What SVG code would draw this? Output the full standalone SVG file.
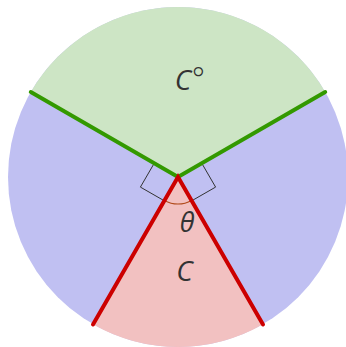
<svg xmlns="http://www.w3.org/2000/svg" width="346" height="347" viewBox="0 0 346 347">
<style>
.lbl{font-family:"Open Sans","Noto Sans","DejaVu Sans",sans-serif;font-style:italic;fill:#333;font-size:28px;text-anchor:middle}
.ra{fill:none;stroke:#333;stroke-width:1}
.gl{stroke:#339900;stroke-width:4;stroke-linecap:round;fill:none}
.rl{stroke:#cc0000;stroke-width:4;stroke-linecap:round;fill:none}
</style>
<g id="disk">
<circle cx="178" cy="177" r="170" fill="#c0c0f2"/>
</g>
<g id="polar-cone">
<path d="M178,177 L30.8,92 A170,170 0 0 1 325.2,92 Z" fill="#cde5c5"/>
<text class="lbl" x="183" y="90">C</text>
<text x="198.5" y="90" style="font-family:'Open Sans','DejaVu Sans',sans-serif;font-size:31px;font-weight:300;fill:#333;text-anchor:middle">°</text>
</g>
<g id="cone">
<path d="M178,177 L263,324.2 A170,170 0 0 1 93,324.2 Z" fill="#f2c1c1"/>
<text class="lbl" x="184.5" y="281">C</text>
</g>
<g id="angle">
<path d="M164.5,200.4 A27,27 0 0 0 191.5,200.4" fill="none" stroke="#b04a1a" stroke-width="1.2"/>
<text class="lbl" x="187" y="232" style="font-size:27px">θ</text>
</g>
<g id="right-angles">
<polyline class="ra" points="154.2,163.3 140.4,187.1 164.3,200.8"/>
<polyline class="ra" points="201.8,163.3 215.6,187.1 191.7,200.8"/>
</g>
<g id="connectors">
<path class="gl" d="M30.8,92 L178,177 L325.2,92"/>
<path class="rl" d="M93,324.5 L178,177 L263,324.5"/>
</g>
</svg>
